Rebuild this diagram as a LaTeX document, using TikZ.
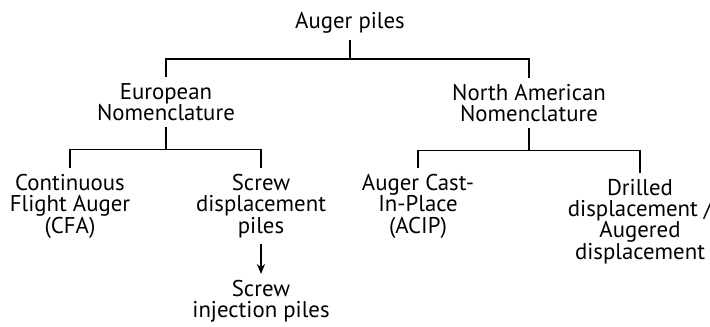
\documentclass[tikz,border=0pt]{standalone}
\usepackage{fontspec}
\setmainfont{PT Sans}
\usetikzlibrary{arrows.meta, positioning}

\begin{document}
\begin{tikzpicture}[
    x=0.5pt, y=-0.5pt,
    txt/.style={align=center, inner sep=3pt, font=\fontsize{11.4}{10.6}\selectfont},
    br/.style={line width=0.7pt},
    arr/.style={-{Stealth[length=5pt, width=4pt]}, line width=0.7pt},
]
\useasboundingbox (0,0) rectangle (710,326);

\node[txt] (root) at (350,23) {Auger piles};

\node[txt, anchor=north] (eu) at (166,77) {European\\Nomenclature};
\node[txt, anchor=north] (na) at (529,78) {North American\\Nomenclature};

\node[txt, anchor=north] (cfa) at (70,168) {Continuous\\Flight Auger\\(CFA)};
\node[txt, anchor=north] (sdp) at (261,168) {Screw\\displacement\\piles};
\node[txt, anchor=north] (acip) at (418,168) {Auger Cast-\\In-Place\\(ACIP)};
\node[txt, anchor=north] (dd) at (640,173) {Drilled\\displacement /\\Augered\\displacement};

\node[txt, below=15pt of sdp] (sip) {Screw\\injection piles};

\draw[br] (root.south) -- ++(0,19) -| (eu.north);
\draw[br] (root.south) -- ++(0,19) -| (na.north);

\draw[br] (eu.south) -- ++(0,22) -| (cfa.north);
\draw[br] (eu.south) -- ++(0,22) -| (sdp.north);
\draw[br] (na.south) -- ++(0,22) -| (acip.north);
\draw[br] (na.south) -- ++(0,22) -| (dd.north);

\draw[arr] (sdp.south) -- (sip.north);

\end{tikzpicture}
\end{document}
